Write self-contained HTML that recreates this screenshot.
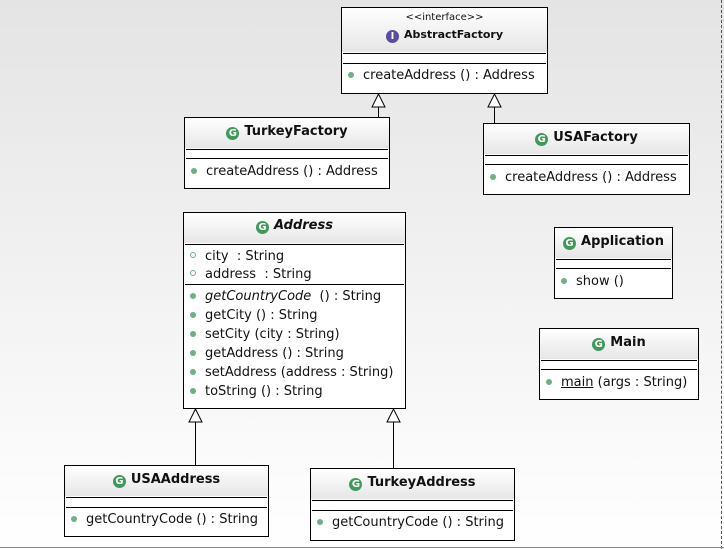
<!DOCTYPE html>
<html><head><meta charset="utf-8"><style>
html,body{margin:0;padding:0}
body{width:724px;height:549px;position:relative;overflow:hidden;background:linear-gradient(#e4e4e4,#ffffff);font-family:"DejaVu Sans","Liberation Sans",sans-serif;font-size:13px;color:#111}
.b{position:absolute;border:1px solid #000;background:#fff;box-sizing:border-box}
.h{position:absolute;background:linear-gradient(#ffffff,#e6e6e6)}
.l{position:absolute;height:1px;background:#000}
.t{position:absolute;line-height:16px;white-space:nowrap;margin-top:2px}
.tt{position:absolute;line-height:16px;white-space:nowrap;font-weight:bold;text-align:center;margin-top:2px}
.c{display:inline-block;width:13px;height:13px;border-radius:50%;background:#3f9a5a;color:#fff;font-size:10px;line-height:13px;text-align:center;vertical-align:-1px;margin-right:5px;font-weight:bold}
.d{display:inline-block;width:6px;height:6px;border-radius:50%;background:#6fae86;margin-right:9px;vertical-align:1px}
.o{display:inline-block;width:4px;height:4px;border-radius:50%;border:1px solid #6fae86;margin-right:9px;vertical-align:2px}
.v{position:absolute;width:1px;background:#000}
</style></head><body>
<div style="position:absolute;left:721px;top:0;width:0;height:549px;border-left:1px dashed #555"></div>
<div style="position:absolute;left:0;top:547px;width:724px;height:1px;background:#888"></div>

<!-- AbstractFactory -->
<div class="b" style="left:341px;top:7px;width:207px;height:87px"></div>
<div class="h" style="left:342px;top:8px;width:205px;height:44px"></div>
<div class="t" style="left:341px;width:207px;top:9px;text-align:center;font-size:10px;line-height:14px">&lt;&lt;interface&gt;&gt;</div>
<div class="tt" style="left:341px;width:207px;top:25px;font-size:11px"><span class="c" style="background:#5b4c9c">I</span>AbstractFactory</div>
<div class="l" style="left:343px;width:203px;top:53px"></div>
<div class="l" style="left:343px;width:203px;top:63px"></div>
<div class="t" style="left:348px;top:66px"><span class="d"></span>createAddress () : Address</div>

<!-- arrows factories -->
<div class="v" style="left:378px;top:107px;height:10px"></div>
<svg style="position:absolute;left:371px;top:93px" width="15" height="15"><polygon points="7.5,1 1,14 14,14" fill="#fff" stroke="#000"/></svg>
<div class="v" style="left:494px;top:107px;height:16px"></div>
<svg style="position:absolute;left:487px;top:93px" width="15" height="15"><polygon points="7.5,1 1,14 14,14" fill="#fff" stroke="#000"/></svg>

<!-- TurkeyFactory -->
<div class="b" style="left:184px;top:117px;width:206px;height:72px"></div>
<div class="h" style="left:185px;top:118px;width:204px;height:30px"></div>
<div class="tt" style="left:184px;width:206px;top:122px"><span class="c">G</span>TurkeyFactory</div>
<div class="l" style="left:186px;width:202px;top:149px"></div>
<div class="l" style="left:186px;width:202px;top:158px"></div>
<div class="t" style="left:191px;top:162px"><span class="d"></span>createAddress () : Address</div>

<!-- USAFactory -->
<div class="b" style="left:483px;top:123px;width:207px;height:72px"></div>
<div class="h" style="left:484px;top:124px;width:205px;height:30px"></div>
<div class="tt" style="left:483px;width:207px;top:128px"><span class="c">G</span>USAFactory</div>
<div class="l" style="left:485px;width:203px;top:155px"></div>
<div class="l" style="left:485px;width:203px;top:164px"></div>
<div class="t" style="left:490px;top:168px"><span class="d"></span>createAddress () : Address</div>

<!-- Address -->
<div class="b" style="left:183px;top:212px;width:223px;height:197px"></div>
<div class="h" style="left:184px;top:213px;width:221px;height:30px"></div>
<div class="tt" style="left:183px;width:223px;top:216px;font-style:italic"><span class="c" style="font-style:normal">G</span>Address</div>
<div class="l" style="left:185px;width:219px;top:244px"></div>
<div class="t" style="left:190px;top:247px"><span class="o"></span>city &nbsp;: String</div>
<div class="t" style="left:190px;top:265px"><span class="o"></span>address &nbsp;: String</div>
<div class="l" style="left:185px;width:219px;top:284px"></div>
<div class="t" style="left:190px;top:287px"><span class="d"></span><i>getCountryCode</i> &nbsp;() : String</div>
<div class="t" style="left:190px;top:306px"><span class="d"></span>getCity () : String</div>
<div class="t" style="left:190px;top:325px"><span class="d"></span>setCity (city : String)</div>
<div class="t" style="left:190px;top:344px"><span class="d"></span>getAddress () : String</div>
<div class="t" style="left:190px;top:363px"><span class="d"></span>setAddress (address : String)</div>
<div class="t" style="left:190px;top:382px"><span class="d"></span>toString () : String</div>

<!-- Application -->
<div class="b" style="left:554px;top:227px;width:119px;height:72px"></div>
<div class="h" style="left:555px;top:228px;width:117px;height:30px"></div>
<div class="tt" style="left:554px;width:119px;top:232px"><span class="c">G</span>Application</div>
<div class="l" style="left:556px;width:115px;top:259px"></div>
<div class="l" style="left:556px;width:115px;top:268px"></div>
<div class="t" style="left:561px;top:272px"><span class="d"></span>show ()</div>

<!-- Main -->
<div class="b" style="left:539px;top:328px;width:160px;height:72px"></div>
<div class="h" style="left:540px;top:329px;width:158px;height:30px"></div>
<div class="tt" style="left:539px;width:160px;top:333px"><span class="c">G</span>Main</div>
<div class="l" style="left:541px;width:156px;top:360px"></div>
<div class="l" style="left:541px;width:156px;top:369px"></div>
<div class="t" style="left:546px;top:373px"><span class="d"></span><u>main</u> (args : String)</div>

<!-- arrows addresses -->
<div class="v" style="left:195px;top:422px;height:43px"></div>
<svg style="position:absolute;left:188px;top:408px" width="15" height="15"><polygon points="7.5,1 1,14 14,14" fill="#fff" stroke="#000"/></svg>
<div class="v" style="left:393px;top:422px;height:46px"></div>
<svg style="position:absolute;left:386px;top:408px" width="15" height="15"><polygon points="7.5,1 1,14 14,14" fill="#fff" stroke="#000"/></svg>

<!-- USAAddress -->
<div class="b" style="left:64px;top:465px;width:205px;height:72px"></div>
<div class="h" style="left:65px;top:466px;width:203px;height:30px"></div>
<div class="tt" style="left:64px;width:205px;top:470px"><span class="c">G</span>USAAddress</div>
<div class="l" style="left:66px;width:201px;top:497px"></div>
<div class="l" style="left:66px;width:201px;top:507px"></div>
<div class="t" style="left:71px;top:510px"><span class="d"></span>getCountryCode () : String</div>

<!-- TurkeyAddress -->
<div class="b" style="left:310px;top:468px;width:205px;height:73px"></div>
<div class="h" style="left:311px;top:469px;width:203px;height:30px"></div>
<div class="tt" style="left:310px;width:205px;top:473px"><span class="c">G</span>TurkeyAddress</div>
<div class="l" style="left:312px;width:201px;top:500px"></div>
<div class="l" style="left:312px;width:201px;top:510px"></div>
<div class="t" style="left:317px;top:513px"><span class="d"></span>getCountryCode () : String</div>
</body></html>
